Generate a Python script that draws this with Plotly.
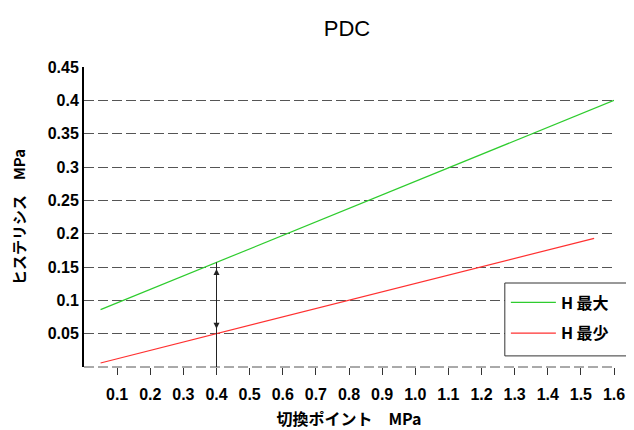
import plotly.graph_objects as go

# ---- data ----
x_max = [0.05, 1.6]
y_max = [0.086, 0.40]
x_min = [0.05, 1.54]
y_min = [0.006, 0.193]
name_max = "H 最大"
name_min = "H 最少"

x_ticks = [0.1, 0.2, 0.3, 0.4, 0.5, 0.6, 0.7, 0.8, 0.9, 1.0, 1.1, 1.2, 1.3, 1.4, 1.5, 1.6]
x_ticktext = ["0.1", "0.2", "0.3", "0.4", "0.5", "0.6", "0.7", "0.8", "0.9", "1.0",
              "1.1", "1.2", "1.3", "1.4", "1.5", "1.6"]
y_ticks = [0.05, 0.1, 0.15, 0.2, 0.25, 0.3, 0.35, 0.4, 0.45]
y_ticktext = ["0.05", "0.1", "0.15", "0.2", "0.25", "0.3", "0.35", "0.4", "0.45"]

arrow_x = 0.4
arrow_line_top = 0.157
arrow_low = 0.055
arrow_high = 0.147

BOLD = "Liberation Sans, Arial, sans-serif"
CJK = "Noto Sans CJK JP, sans-serif"
GRID = "#555555"
DASH = "10px,4px"

fig = go.Figure()
fig.add_trace(go.Scatter(x=x_max, y=y_max, mode="lines", name=name_max, legendgroup="a",
                         line=dict(color="#2ecc2e", width=1.2)))
fig.add_trace(go.Scatter(x=x_min, y=y_min, mode="lines", name=name_min, legendgroup="b",
                         line=dict(color="#ff3030", width=1.2)))

# dashed baseline at the bottom of the plot area
fig.add_shape(type="line", xref="paper", yref="paper", x0=0, x1=1, y0=0, y1=0,
              line=dict(color=GRID, width=1, dash=DASH))

# legend frame (runs off the right edge like the original)
fig.add_shape(type="rect", xref="paper", yref="paper", x0=0.794, x1=1.08, y0=0.037, y1=0.28,
              fillcolor="white", line=dict(color="#333", width=1), layer="above")

# vertical line and double arrow
fig.add_shape(type="line", x0=arrow_x, x1=arrow_x, y0=0, y1=arrow_line_top,
              xref="x", yref="y", line=dict(color="#222", width=1))
fig.add_annotation(x=arrow_x, y=arrow_high, ax=arrow_x, ay=arrow_low,
                   xref="x", yref="y", axref="x", ayref="y", text="",
                   showarrow=True, arrowhead=2, arrowside="end+start",
                   arrowsize=1.2, arrowwidth=1, arrowcolor="#222")

fig.update_layout(
    width=626, height=422,
    margin=dict(l=76, r=20, t=59, b=63),
    paper_bgcolor="white", plot_bgcolor="white",
    title=dict(text="PDC", x=0.5415, xanchor="center", y=0.9526, yanchor="middle",
               xref="container", yref="container",
               font=dict(family="Liberation Sans, Arial", size=22, color="black")),
    showlegend=True,
    legend=dict(x=0.796, y=0.272, xanchor="left", yanchor="top",
                bgcolor="rgba(0,0,0,0)", borderwidth=0,
                font=dict(family=CJK, size=16, color="black", weight="bold"),
                itemwidth=45, tracegroupgap=7),
    xaxis=dict(range=[0, 1.6], tickvals=x_ticks, ticktext=x_ticktext,
               showgrid=False, zeroline=False, showline=False, automargin=False,
               ticks="outside", ticklen=7, tickcolor="#333", tickwidth=1,
               ticklabelstandoff=6,
               tickfont=dict(family=BOLD, size=16, color="black", weight="bold"),
               title=dict(text="切換ポイント\u3000MPa", standoff=16,
                          font=dict(family=CJK, size=16, color="black", weight="bold"))),
    yaxis=dict(range=[0, 0.45], tickvals=y_ticks, ticktext=y_ticktext,
               showgrid=True, gridcolor=GRID, griddash=DASH, gridwidth=1,
               zeroline=False, showline=True, linecolor="black", linewidth=2,
               ticks="", ticklabelstandoff=0, automargin=False,
               tickfont=dict(family=BOLD, size=16, color="black", weight="bold"),
               title=dict(text="ヒステリシス\u3000MPa", standoff=18,
                          font=dict(family=CJK, size=15, color="black", weight="bold"))),
)

fig.write_html("out.html")
